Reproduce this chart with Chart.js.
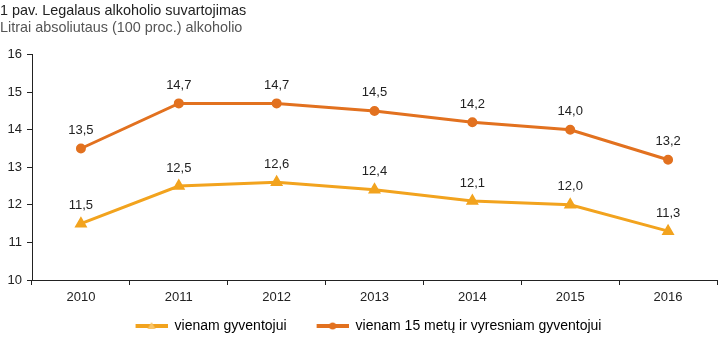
<!DOCTYPE html>
<html>
<head>
<meta charset="utf-8">
<script src="https://cdn.jsdelivr.net/npm/chart.js@4"></script>
<style>
  body { margin: 0; background: #fff; }
  #wrap { width: 727px; height: 344px; }
</style>
</head>
<body>
<div id="wrap"><canvas id="alco-chart" width="727" height="344"></canvas></div>
<script>
const years = ['2010', '2011', '2012', '2013', '2014', '2015', '2016'];
const perResident = [11.5, 12.5, 12.6, 12.4, 12.1, 12.0, 11.3];
const per15Plus = [13.5, 14.7, 14.7, 14.5, 14.2, 14.0, 13.2];
const seriesNames = ['vienam gyventojui', 'vienam 15 metų ir vyresniam gyventojui'];

const yellow = '#F2A31E';
const orange = '#E2711F';
const fontFam = '"Liberation Sans", Arial, sans-serif';

// legend icon: short line with the marker in the middle, left margin adds gap between items
function legendIcon(color, shape) {
    const c = document.createElement('canvas');
    c.width = 52;
    c.height = 12;
    const g = c.getContext('2d');
    g.strokeStyle = color;
    g.lineWidth = 4;
    g.beginPath();
    g.moveTo(20, 6);
    g.lineTo(52, 6);
    g.stroke();
    g.beginPath();
    if (shape === 'triangle') {
        g.moveTo(36, 2);
        g.lineTo(40, 9);
        g.lineTo(32, 9);
        g.closePath();
        g.fillStyle = '#f8c468';
    } else {
        g.arc(36, 6, 3.5, 0, Math.PI * 2);
        g.fillStyle = color;
    }
    g.fill();
    return c;
}

// value labels above each point, with decimal comma
const valueLabels = {
    id: 'valueLabels',
    afterDatasetsDraw(chart) {
        const ctx = chart.ctx;
        ctx.save();
        ctx.font = '13px ' + fontFam;
        ctx.fillStyle = '#222';
        ctx.textAlign = 'center';
        ctx.textBaseline = 'middle';
        chart.data.datasets.forEach((ds, i) => {
            chart.getDatasetMeta(i).data.forEach((pt, j) => {
                ctx.fillText(ds.data[j].toFixed(1).replace('.', ','), pt.x, pt.y - 18);
            });
        });
        ctx.restore();
    }
};

const ctx = document.getElementById('alco-chart').getContext('2d');

new Chart(ctx, {
    type: 'line',
    data: {
        labels: years,
        datasets: [{
            label: seriesNames[0],
            data: perResident,
            borderColor: yellow,
            backgroundColor: yellow,
            borderWidth: 3,
            pointStyle: 'triangle',
            pointRadius: 4.5,
            tension: 0
        }, {
            label: seriesNames[1],
            data: per15Plus,
            borderColor: orange,
            backgroundColor: orange,
            borderWidth: 3,
            pointStyle: 'circle',
            pointRadius: 3.5,
            tension: 0
        }]
    },
    options: {
        responsive: false,
        animation: false,
        layout: { padding: { left: 0, right: 10, top: 0, bottom: 1 } },
        plugins: {
            title: {
                display: true,
                text: '1 pav. Legalaus alkoholio suvartojimas',
                align: 'start',
                color: '#222',
                font: { family: fontFam, size: 14.4, weight: 'normal', lineHeight: 1.2 },
                padding: { top: 2, bottom: 0 }
            },
            subtitle: {
                display: true,
                text: 'Litrai absoliutaus (100 proc.) alkoholio',
                align: 'start',
                color: '#555',
                font: { family: fontFam, size: 14.4, lineHeight: 1.2 },
                padding: { top: 0, bottom: 18 }
            },
            legend: {
                position: 'bottom',
                labels: {
                    usePointStyle: true,
                    pointStyleWidth: 52,
                    padding: 10,
                    color: '#222',
                    font: { family: fontFam, size: 14 },
                    generateLabels(chart) {
                        return chart.data.datasets.map((ds, i) => ({
                            text: ds.label,
                            pointStyle: legendIcon(ds.borderColor, i === 0 ? 'triangle' : 'circle'),
                            fillStyle: ds.borderColor,
                            strokeStyle: ds.borderColor,
                            lineWidth: 0,
                            datasetIndex: i
                        }));
                    }
                }
            },
            tooltip: { enabled: false }
        },
        scales: {
            x: {
                offset: true,
                afterFit(scale) { scale.height = 29; },
                grid: { drawOnChartArea: false, offset: true, tickLength: 5, color: '#222' },
                border: { color: '#222', width: 1 },
                ticks: {
                    color: '#222',
                    padding: 5,
                    font: { family: fontFam, size: 13 }
                }
            },
            y: {
                min: 10,
                max: 16,
                afterFit(scale) { scale.width = 32; },
                grid: { drawOnChartArea: false, tickLength: 5, color: '#222' },
                border: { color: '#222', width: 1 },
                ticks: {
                    stepSize: 1,
                    color: '#222',
                    padding: 5,
                    font: { family: fontFam, size: 13 }
                }
            }
        }
    },
    plugins: [valueLabels]
});
</script>
</body>
</html>
